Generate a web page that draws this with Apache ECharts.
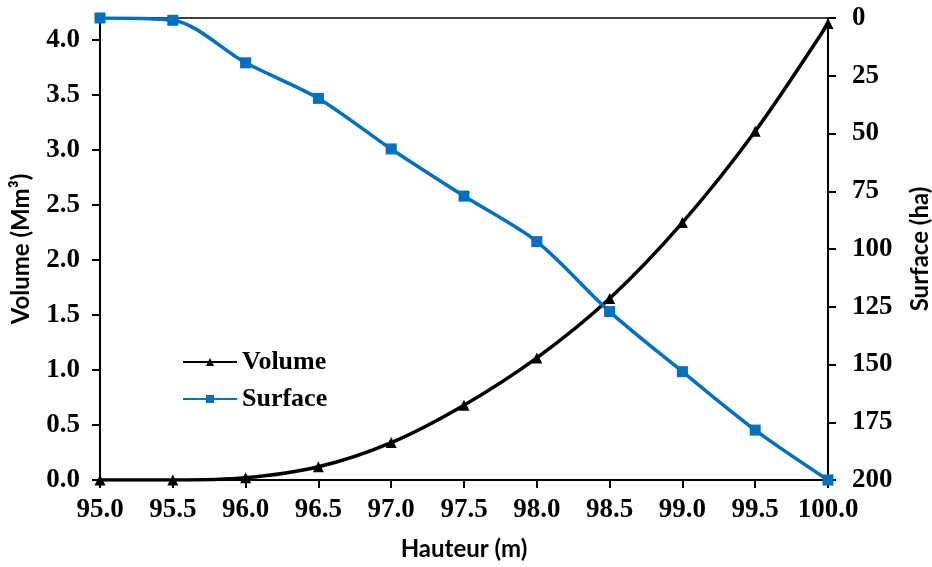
<!DOCTYPE html>
<html>
<head>
<meta charset="utf-8">
<script src="https://cdn.jsdelivr.net/npm/echarts@6/dist/echarts.min.js"></script>
<style>
  html, body { margin: 0; padding: 0; background: #fff; }
  #chart { width: 932px; height: 567px; }
</style>
</head>
<body>
<div id="chart"></div>
<script>
// Reservoir level (m) vs stored volume and flooded surface
const hauteur = [95.0, 95.5, 96.0, 96.5, 97.0, 97.5, 98.0, 98.5, 99.0, 99.5, 100.0];
const volume  = [0.00, 0.00, 0.02, 0.12, 0.34, 0.68, 1.11, 1.65, 2.34, 3.17, 4.15];   // Mm³
const surface = [0, 1, 19.4, 34.8, 56.7, 77.1, 96.8, 127.1, 153.1, 178.4, 200];      // ha

const tickFont = { fontFamily: 'Liberation Serif', fontWeight: 'bold', fontSize: 27, color: '#000' };
const nameFont = { fontFamily: 'Lato', fontWeight: 'bold', fontSize: 24, color: '#000' };
const axisLine = { show: true, lineStyle: { color: '#000', width: 2 } };
const axisTick = { show: true, inside: false, length: 8, lineStyle: { color: '#000', width: 2 } };

const pairs = (ys) => hauteur.map((x, i) => [x, ys[i]]);

const chart = echarts.init(document.getElementById('chart'), null, { renderer: 'canvas' });
chart.setOption({
  animation: false,
  backgroundColor: '#fff',
  grid: {
    left: 100, right: 104, top: 18, bottom: 87,
    outerBoundsMode: 'none', containLabel: false,
    show: true, borderColor: '#000', borderWidth: 1.5, backgroundColor: 'transparent'
  },
  legend: {
    orient: 'vertical',
    left: 177, top: 344,
    itemWidth: 54, itemHeight: 10, itemGap: 11,
    textStyle: Object.assign({}, tickFont, { fontSize: 26 }),
    data: ['Volume', 'Surface']
  },
  xAxis: {
    type: 'value',
    min: 95, max: 100, interval: 0.5,
    name: 'Hauteur (m)', nameLocation: 'middle', nameGap: 57,
    nameTextStyle: nameFont,
    axisLine, axisTick,
    splitLine: { show: false },
    axisLabel: Object.assign({ margin: 17, formatter: (v) => v.toFixed(1) }, tickFont)
  },
  yAxis: [
    {
      type: 'value', position: 'left',
      min: 0, max: 4.2, interval: 0.5,
      name: 'Volume (Mm³)', nameLocation: 'middle', nameGap: 67, nameRotate: 90,
      nameTextStyle: nameFont,
      axisLine, axisTick,
      splitLine: { show: false },
      axisLabel: Object.assign({ margin: 20, showMaxLabel: false, formatter: (v) => v.toFixed(1) }, tickFont)
    },
    {
      type: 'value', position: 'right', inverse: true,
      min: 0, max: 200, interval: 25,
      name: 'Surface (ha)', nameLocation: 'middle', nameGap: 80, nameRotate: 90,
      nameTextStyle: nameFont,
      axisLine, axisTick,
      splitLine: { show: false },
      axisLabel: Object.assign({ margin: 24 }, tickFont)
    }
  ],
  series: [
    {
      name: 'Volume', type: 'line', yAxisIndex: 0,
      data: pairs(volume),
      smooth: 0.3,
      symbol: 'triangle', symbolSize: 11,
      lineStyle: { color: '#000', width: 3.5 },
      itemStyle: { color: '#000' }
    },
    {
      name: 'Surface', type: 'line', yAxisIndex: 1,
      data: pairs(surface),
      smooth: 0.3,
      symbol: 'rect', symbolSize: 11,
      lineStyle: { color: '#0070C0', width: 3.5 },
      itemStyle: { color: '#0070C0' }
    }
  ]
});
</script>
</body>
</html>
